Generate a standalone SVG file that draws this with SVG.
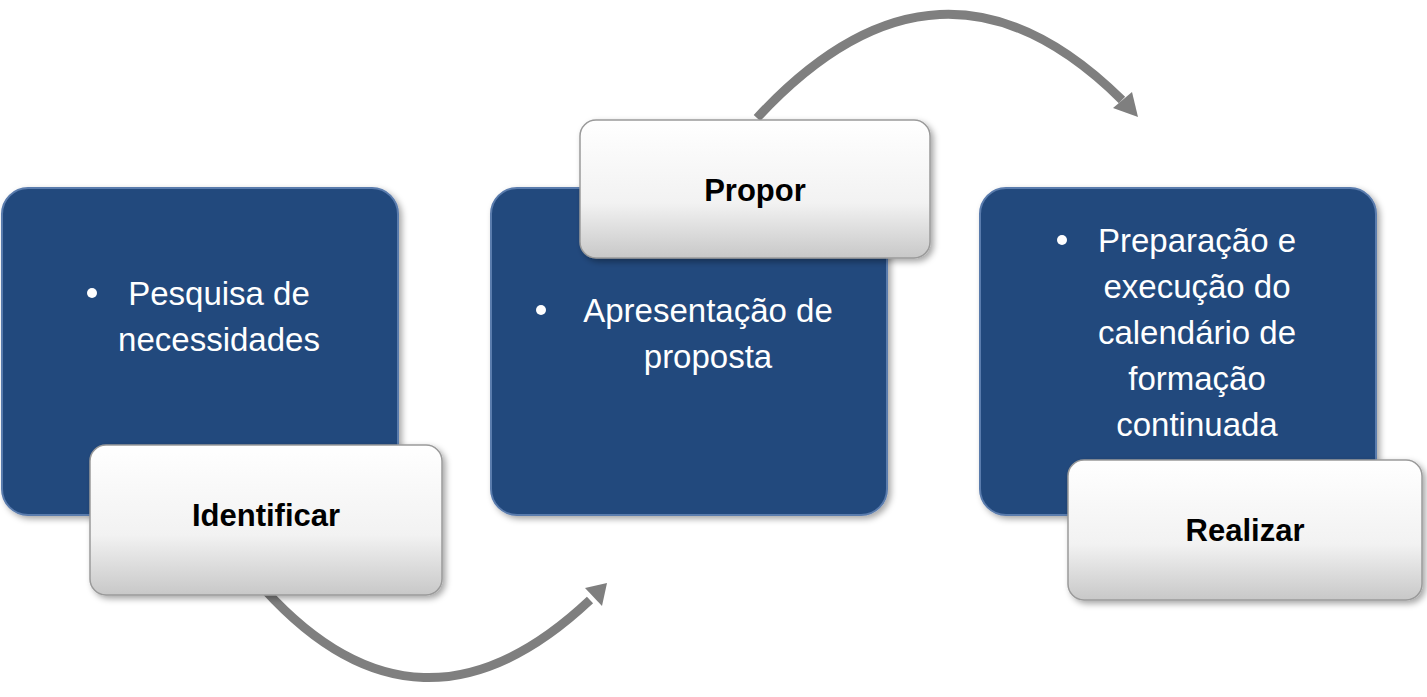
<svg xmlns="http://www.w3.org/2000/svg" width="1427" height="697" viewBox="0 0 1427 697">
<defs>
<linearGradient id="lg" x1="0" y1="0" x2="0" y2="1"><stop offset="0" stop-color="#ffffff"/><stop offset="0.6" stop-color="#f2f2f2"/><stop offset="1" stop-color="#c8c8c8"/></linearGradient>
<marker id="ah" markerWidth="8" markerHeight="8" refX="4" refY="4" orient="auto" markerUnits="userSpaceOnUse" viewBox="0 0 8 8"><path d="M0,0 L8,4 L0,8 z" fill="#7f7f7f"/></marker>
<filter id="sh" x="-10%" y="-10%" width="130%" height="130%"><feDropShadow dx="3" dy="3" stdDeviation="3" flood-color="#000" flood-opacity="0.35"/></filter>
</defs>
<style>
.big{fill:#234a7d;stroke:#5a7bad;stroke-width:2}
.lab{fill:url(#lg);stroke:#9a9a9a;stroke-width:1.5}
.t{font-family:"Liberation Sans",Arial,sans-serif;font-size:33px;fill:#fff;text-anchor:middle}
.b{font-family:"Liberation Sans",Arial,sans-serif;font-size:31px;font-weight:bold;fill:#000;text-anchor:middle}
.c{fill:none;stroke:#7f7f7f;stroke-width:9}
</style>
<g id="connectors">
<path class="c" d="M265,590 Q420,760 590,600"/>
<path d="M585,588 L607,583 L602,606 z" fill="#7f7f7f"/>
<path class="c" d="M757,118 Q940,-80 1122,100"/>
<path d="M1113,108 L1138,117 L1132,92 z" fill="#7f7f7f"/>
</g>
<g id="n1">
<rect class="big" x="2" y="188" width="396" height="327" rx="26" filter="url(#sh)"/>
<circle cx="92" cy="293" r="5" fill="#fff"/>
<text class="t" x="219" y="305">Pesquisa de</text>
<text class="t" x="219" y="351">necessidades</text>
</g>
<g id="n2">
<rect class="big" x="491" y="188" width="396" height="327" rx="26" filter="url(#sh)"/>
<circle cx="541" cy="310" r="5" fill="#fff"/>
<text class="t" x="708" y="322">Apresentação de</text>
<text class="t" x="708" y="368">proposta</text>
</g>
<g id="n3">
<rect class="big" x="980" y="188" width="396" height="327" rx="26" filter="url(#sh)"/>
<circle cx="1062" cy="240" r="5" fill="#fff"/>
<text class="t" x="1197" y="252">Preparação e</text>
<text class="t" x="1197" y="298">execução do</text>
<text class="t" x="1197" y="344">calendário de</text>
<text class="t" x="1197" y="390">formação</text>
<text class="t" x="1197" y="436">continuada</text>
</g>
<g id="l1">
<rect class="lab" x="90" y="445" width="352" height="150" rx="16" filter="url(#sh)"/>
<text class="b" x="266" y="526">Identificar</text>
</g>
<g id="l2">
<rect class="lab" x="580" y="120" width="350" height="138" rx="16" filter="url(#sh)"/>
<text class="b" x="755" y="201">Propor</text>
</g>
<g id="l3">
<rect class="lab" x="1068" y="460" width="354" height="140" rx="16" filter="url(#sh)"/>
<text class="b" x="1245" y="541">Realizar</text>
</g>
</svg>
